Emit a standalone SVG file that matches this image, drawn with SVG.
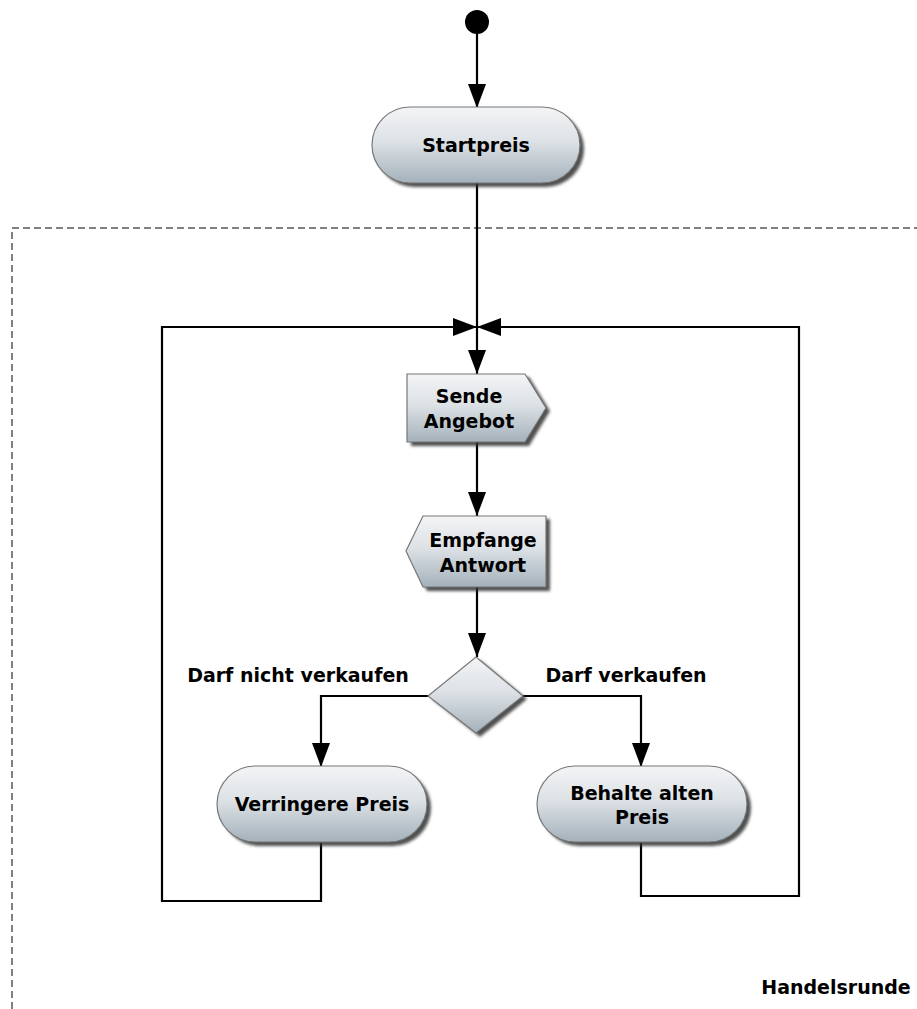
<svg xmlns="http://www.w3.org/2000/svg" width="917" height="1009" viewBox="0 0 917 1009">
  <style>
    .node { fill: url(#nodeFill); stroke: #777; stroke-width: 1.2; }
    .shadow { fill: #333; opacity: 0.85; filter: url(#soft); }
    .lbl { font-family: "DejaVu Sans", Verdana, sans-serif; font-weight: bold; font-size: 19px; fill: #000; text-anchor: middle; }
    .edge { fill: none; stroke: #000; stroke-width: 2.2; }
    .frame { fill: none; stroke: #808080; stroke-width: 2; stroke-dasharray: 7 4; }
  </style>
  <defs>
    <linearGradient id="nodeFill" x1="0" y1="0" x2="0" y2="1">
      <stop offset="0" stop-color="#f3f4f6"/>
      <stop offset="0.45" stop-color="#dde2e6"/>
      <stop offset="1" stop-color="#a4b1bb"/>
    </linearGradient>
    <filter id="soft" x="-10%" y="-10%" width="130%" height="130%">
      <feGaussianBlur stdDeviation="1.5"/>
    </filter>
    <marker id="arrow" viewBox="0 0 24 18" refX="24" refY="9" markerWidth="24" markerHeight="18" markerUnits="userSpaceOnUse" orient="auto">
      <path d="M0,0 L24,9 L0,18 Z" fill="#000"/>
    </marker>
  </defs>

  <!-- interruptible region frame -->
  <path class="frame" d="M12,1009 V228 H917"/>
  <text class="lbl" x="836" y="994">Handelsrunde</text>

  <!-- connectors -->
  <g id="connectors">
    <line class="edge" x1="477" y1="34" x2="477" y2="108" marker-end="url(#arrow)"/>
    <line class="edge" x1="477" y1="183" x2="477" y2="374" marker-end="url(#arrow)"/>
    <line class="edge" x1="477" y1="442" x2="477" y2="516" marker-end="url(#arrow)"/>
    <line class="edge" x1="477" y1="587" x2="477" y2="657" marker-end="url(#arrow)"/>
    <polyline class="edge" points="428,696 321,696 321,767" marker-end="url(#arrow)"/>
    <polyline class="edge" points="523,696 641,696 641,767" marker-end="url(#arrow)"/>
    <polyline class="edge" points="321,843 321,901 162,901 162,327 477,327" marker-end="url(#arrow)"/>
    <polyline class="edge" points="641,843 641,896 799,896 799,327 477,327" marker-end="url(#arrow)"/>
    <text class="lbl" x="298" y="682">Darf nicht verkaufen</text>
    <text class="lbl" x="626" y="682">Darf verkaufen</text>
  </g>

  <!-- initial node -->
  <g id="start">
    <circle cx="477" cy="22" r="12" fill="#000"/>
  </g>

  <g id="startpreis">
    <rect class="shadow" x="376" y="111" width="208" height="76" rx="38"/>
    <rect class="node" x="372" y="107" width="208" height="76" rx="38"/>
    <text class="lbl" x="476" y="152">Startpreis</text>
  </g>

  <g id="sende-angebot">
    <path class="shadow" d="M411,377 H529 L550,411 L529,446 H411 Z"/>
    <path class="node" d="M407,374 H525 L546,408 L525,442 H407 Z"/>
    <text class="lbl" x="469" y="403">Sende</text>
    <text class="lbl" x="469" y="428">Angebot</text>
  </g>

  <g id="empfange-antwort">
    <path class="shadow" d="M427,519 H550 V591 H427 L410,555 Z"/>
    <path class="node" d="M423,516 H546 V587 H423 L406,551 Z"/>
    <text class="lbl" x="483" y="547">Empfange</text>
    <text class="lbl" x="483" y="572">Antwort</text>
  </g>

  <g id="entscheidung">
    <path class="shadow" d="M480,660 L527,699 L480,737 L432,699 Z"/>
    <path class="node" d="M476,657 L523,696 L476,733 L428,696 Z"/>
  </g>

  <g id="verringere-preis">
    <rect class="shadow" x="221" y="770" width="210" height="76" rx="38"/>
    <rect class="node" x="217" y="766" width="210" height="76" rx="38"/>
    <text class="lbl" x="322" y="811">Verringere Preis</text>
  </g>

  <g id="behalte-preis">
    <rect class="shadow" x="541" y="770" width="210" height="76" rx="38"/>
    <rect class="node" x="537" y="766" width="210" height="76" rx="38"/>
    <text class="lbl" x="642" y="800">Behalte alten</text>
    <text class="lbl" x="642" y="824">Preis</text>
  </g>
</svg>
